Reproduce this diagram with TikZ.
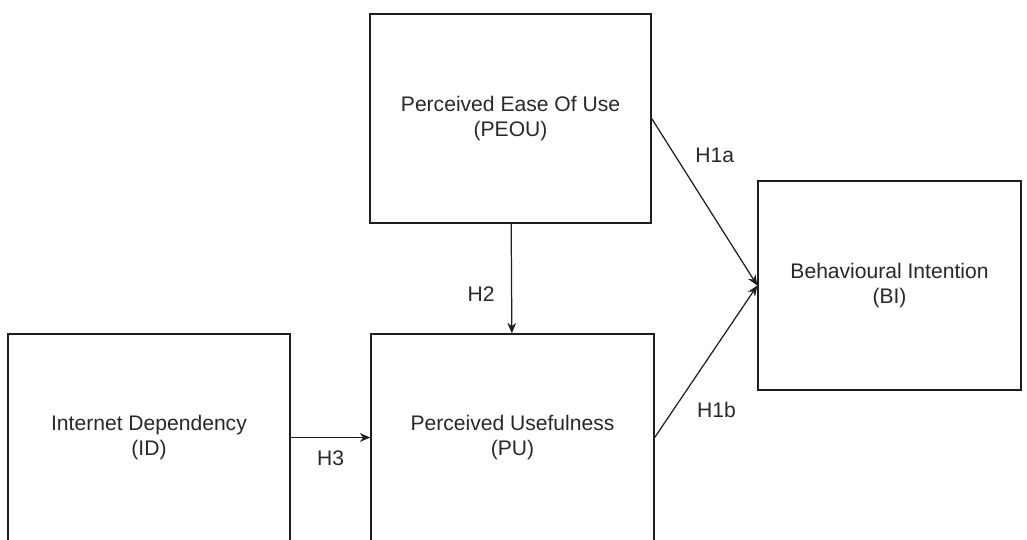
\documentclass[tikz,border=0pt]{standalone}
\usepackage{fontspec}
\setmainfont{Liberation Sans}
\usepackage{tikz}
\usetikzlibrary{arrows.meta, positioning}
\usepackage{xcolor}
\definecolor{boxline}{RGB}{30,30,30}
\definecolor{boxtext}{RGB}{40,40,40}
\tikzset{
  cbox/.style={rectangle, draw=boxline, line width=0.8pt,
    align=center, text=boxtext, inner sep=3pt,
    font=\fontsize{12}{14.5}\selectfont},
  hyp/.style={-{Stealth[length=6pt, width=5pt]}, line width=0.7pt, draw=boxline},
  hlab/.style={font=\fontsize{12}{14.5}\selectfont, text=boxtext},
}

\begin{document}
\begin{tikzpicture}[x=0.02cm, y=-0.02cm]
  \useasboundingbox (0,0) rectangle (1027,539);

  % Constructs
  \node[cbox, minimum width=5.62cm, minimum height=4.18cm] (peou) at (510.5,118.5)
       {Perceived Ease Of Use\\(PEOU)};
  \node[cbox, minimum width=5.26cm, minimum height=4.18cm] (bi) at (889.5,285.5)
       {Behavioural Intention\\(BI)};
  \node[cbox, minimum width=5.64cm, minimum height=4.14cm] (id) at (149,437.5)
       {Internet Dependency\\(ID)};
  \node[cbox, minimum width=5.66cm, minimum height=4.14cm] (pu) at (512.5,437.5)
       {Perceived Usefulness\\(PU)};

  % Hypotheses
  \draw[hyp] (peou.east) -- (bi.west)
       node[hlab, pos=0.22, right=8pt] (h1a) {H1a};
  \draw[hyp] (pu.east) -- (bi.west)
       node[hlab, pos=0.18, right=10pt] (h1b) {H1b};
  \draw[hyp] (peou) -- (pu)
       node[hlab, pos=0.64, left=6pt] (h2) {H2};
  \draw[hyp] (id.east) -- (pu.west)
       node[hlab, midway, below=4pt] (h3) {H3};
\end{tikzpicture}
\end{document}
